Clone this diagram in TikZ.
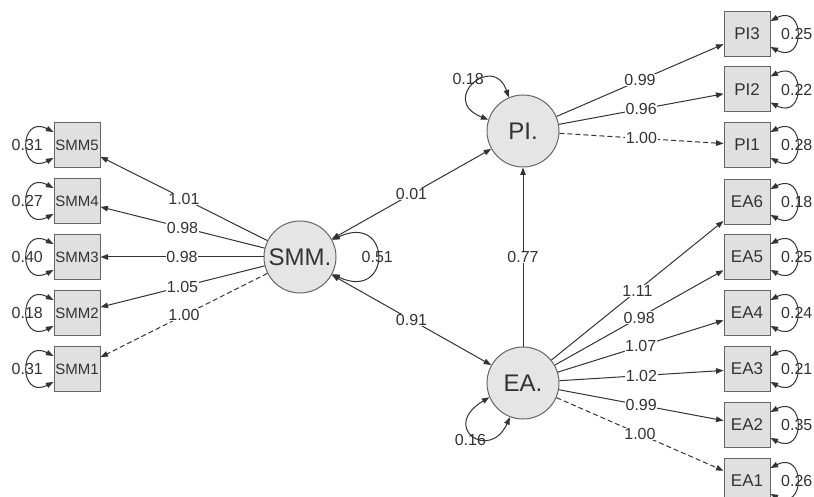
\documentclass[tikz,border=0pt]{standalone}
\usepackage{fontspec}
\setmainfont{Liberation Sans}
\usetikzlibrary{arrows.meta}

\begin{document}
\begin{tikzpicture}[x=1pt,y=-1pt,>={Triangle[length=7.5pt,width=5.5pt]},every node/.style={font=\fontsize{16}{16}\selectfont,text=black!80},
ind/.style={draw=black!60,line width=1pt,fill=black!12,minimum width=46pt,minimum height=45pt,inner sep=0pt,font=\fontsize{17}{17}\selectfont},
smallind/.style={ind,font=\fontsize{15}{15}\selectfont},
lat/.style={circle,draw=black!60,line width=1pt,fill=black!10,minimum size=72pt,inner sep=0pt,font=\fontsize{24}{24}\selectfont},
load/.style={->,black!80,line width=1pt},
fixed/.style={load,dash pattern=on 5pt off 3pt},
coef/.style={fill=white,inner sep=0.5pt},
var/.style={<->,black!80,line width=1pt}]
\useasboundingbox (0,0) rectangle (814,497);
% latent variables
\node[lat] (SMM) at (300,257) {SMM.};
\node[lat] (PI) at (523,131) {PI.};
\node[lat] (EA) at (523,383) {EA.};
% indicators
\node[smallind] (SMM5) at (77,145) {SMM5};\node[smallind] (SMM4) at (77,201) {SMM4};
\node[smallind] (SMM3) at (77,257) {SMM3};\node[smallind] (SMM2) at (77,313) {SMM2};
\node[smallind] (SMM1) at (77,369) {SMM1};
\node[ind] (PI3) at (747,34) {PI3};\node[ind] (PI2) at (747,89.5) {PI2};\node[ind] (PI1) at (747,145) {PI1};
\node[ind] (EA6) at (747,202) {EA6};\node[ind] (EA5) at (747,257) {EA5};\node[ind] (EA4) at (747,313) {EA4};
\node[ind] (EA3) at (747,369) {EA3};\node[ind] (EA2) at (747,425) {EA2};\node[ind] (EA1) at (747,481) {EA1};
% loadings
\draw[load] (SMM)--node[coef] {1.01}(SMM5);\draw[load] (SMM)--node[coef] {0.98}(SMM4);
\draw[load] (SMM)--node[coef] {0.98}(SMM3);\draw[load] (SMM)--node[coef] {1.05}(SMM2);
\draw[fixed] (SMM)--node[coef] {1.00}(SMM1);
\draw[load] (PI)--node[coef] {0.99}(PI3);\draw[load] (PI)--node[coef] {0.96}(PI2);
\draw[fixed] (PI)--node[coef] {1.00}(PI1);
\draw[load] (EA)--node[coef] {1.11}(EA6);\draw[load] (EA)--node[coef] {0.98}(EA5);
\draw[load] (EA)--node[coef] {1.07}(EA4);\draw[load] (EA)--node[coef] {1.02}(EA3);
\draw[load] (EA)--node[coef] {0.99}(EA2);\draw[fixed] (EA)--node[coef] {1.00}(EA1);
% structural part
\draw[var] (SMM)--node[coef] {0.01}(PI);
\draw[var] (SMM)--node[coef] {0.91}(EA);
\draw[load] (EA)--node[coef] {0.77}(PI);
% variances of latent variables
\draw[var] (SMM.28) .. controls +(60,-28) and +(60,28) .. (SMM.-28) node[pos=.5] {0.51};
\draw[var] (PI.162) .. controls +(-50,-20) and +(-15,-45) .. (PI.113) node[pos=.5,xshift=-6pt,yshift=5pt] {0.18};
\draw[var] (EA.203) .. controls +(-50,30) and +(-20,45) .. (EA.249) node[pos=.5,xshift=-3pt,yshift=-5pt] {0.16};
% error variances
\draw[var] ([yshift=13pt]SMM5.west) .. controls +(-35,-18) and +(-35,18) .. ([yshift=-13pt]SMM5.west) node[pos=.5] {0.31};
\draw[var] ([yshift=13pt]SMM4.west) .. controls +(-35,-18) and +(-35,18) .. ([yshift=-13pt]SMM4.west) node[pos=.5] {0.27};
\draw[var] ([yshift=13pt]SMM3.west) .. controls +(-35,-18) and +(-35,18) .. ([yshift=-13pt]SMM3.west) node[pos=.5] {0.40};
\draw[var] ([yshift=13pt]SMM2.west) .. controls +(-35,-18) and +(-35,18) .. ([yshift=-13pt]SMM2.west) node[pos=.5] {0.18};
\draw[var] ([yshift=13pt]SMM1.west) .. controls +(-35,-18) and +(-35,18) .. ([yshift=-13pt]SMM1.west) node[pos=.5] {0.31};
\draw[var] ([yshift=13pt]PI3.east) .. controls +(35,-18) and +(35,18) .. ([yshift=-13pt]PI3.east) node[pos=.5] {0.25};
\draw[var] ([yshift=13pt]PI2.east) .. controls +(35,-18) and +(35,18) .. ([yshift=-13pt]PI2.east) node[pos=.5] {0.22};
\draw[var] ([yshift=13pt]PI1.east) .. controls +(35,-18) and +(35,18) .. ([yshift=-13pt]PI1.east) node[pos=.5] {0.28};
\draw[var] ([yshift=13pt]EA6.east) .. controls +(35,-18) and +(35,18) .. ([yshift=-13pt]EA6.east) node[pos=.5] {0.18};
\draw[var] ([yshift=13pt]EA5.east) .. controls +(35,-18) and +(35,18) .. ([yshift=-13pt]EA5.east) node[pos=.5] {0.25};
\draw[var] ([yshift=13pt]EA4.east) .. controls +(35,-18) and +(35,18) .. ([yshift=-13pt]EA4.east) node[pos=.5] {0.24};
\draw[var] ([yshift=13pt]EA3.east) .. controls +(35,-18) and +(35,18) .. ([yshift=-13pt]EA3.east) node[pos=.5] {0.21};
\draw[var] ([yshift=13pt]EA2.east) .. controls +(35,-18) and +(35,18) .. ([yshift=-13pt]EA2.east) node[pos=.5] {0.35};
\draw[var] ([yshift=13pt]EA1.east) .. controls +(35,-18) and +(35,18) .. ([yshift=-13pt]EA1.east) node[pos=.5] {0.26};
\end{tikzpicture}
\end{document}
